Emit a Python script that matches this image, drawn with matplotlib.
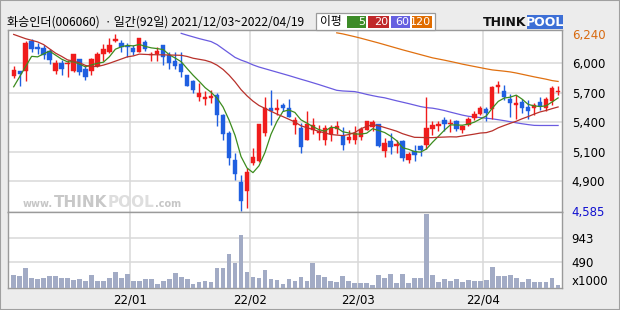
import numpy as np
import pandas as pd
import matplotlib
matplotlib.use("Agg")
import matplotlib.pyplot as plt
from matplotlib.patches import Rectangle

# ---------------- data ----------------
stock_name = "화승인더"
stock_code = "006060"
start_date = "2021-12-03"
end_date = "2022-04-19"
krx_holidays = ["2021-12-31", "2022-01-31", "2022-02-01", "2022-02-02", "2022-03-01", "2022-03-09"]

opens = [5850, 5891, 5894, 6175, 6116, 6106, 6084, 5894, 5966, 5960,
         5894, 6003, 5910, 5894, 5941, 6053, 6075, 6169, 6153, 6131,
         6106, 6075, 6162, 6041, 6050, 6137, 6044, 5988, 5957, 5857,
         5801, 5654, 5629, 5639, 5670, 5477, 5311, 5062, 4853, 4766,
         5031, 5047, 5311, 5551, 5530, 5570, 5551, 5389, 5358, 5249,
         5343, 5311, 5249, 5302, 5352, 5280, 5249, 5249, 5271, 5343,
         5365, 5396, 5146, 5234, 5193, 5234, 5062, 5146, 5187, 5202,
         5352, 5380, 5433, 5396, 5421, 5343, 5383, 5452, 5489, 5539,
         5539, 5742, 5701, 5633, 5576, 5601, 5555, 5545, 5601, 5545,
         5614, 5692]
highs = [5944, 5891, 6169, 6194, 6153, 6137, 6100, 5997, 5997, 5997,
         6056, 6003, 5935, 6013, 6069, 6144, 6200, 6240, 6184, 6153,
         6137, 6206, 6184, 6075, 6122, 6137, 6069, 6069, 6069, 5857,
         5810, 5785, 5701, 5717, 5686, 5489, 5327, 5124, 4922, 4984,
         5171, 5396, 5645, 5717, 5633, 5592, 5633, 5458, 5405, 5514,
         5452, 5383, 5389, 5389, 5421, 5365, 5343, 5374, 5365, 5427,
         5436, 5396, 5265, 5311, 5249, 5249, 5131, 5196, 5202, 5654,
         5421, 5427, 5458, 5445, 5430, 5389, 5467, 5514, 5561, 5555,
         5757, 5801, 5763, 5679, 5664, 5629, 5623, 5592, 5654, 5645,
         5748, 5748]
lows = [5826, 5748, 5801, 6075, 6050, 6006, 5957, 5863, 5857, 5841,
        5879, 5851, 5810, 5857, 5926, 5982, 6060, 6162, 6075, 6028,
        6038, 6069, 6081, 5988, 5988, 5950, 5913, 5913, 5841, 5748,
        5686, 5608, 5570, 5592, 5374, 5249, 5009, 4875, 4585, 4610,
        5015, 5040, 5287, 5383, 5477, 5514, 5458, 5302, 5124, 5249,
        5302, 5249, 5196, 5240, 5302, 5156, 5218, 5209, 5249, 5343,
        5327, 5177, 5084, 5115, 5124, 5053, 5031, 5053, 5093, 5165,
        5290, 5333, 5327, 5321, 5333, 5311, 5374, 5436, 5477, 5427,
        5445, 5686, 5623, 5458, 5445, 5498, 5445, 5483, 5530, 5514,
        5576, 5670]
closes = [5903, 5869, 6153, 6100, 6100, 6044, 5997, 5966, 5913, 5972,
          6050, 5882, 5841, 6003, 6050, 6100, 6137, 6194, 6116, 6116,
          6075, 6206, 6100, 6050, 6081, 6028, 5966, 5944, 5879, 5757,
          5717, 5686, 5645, 5661, 5483, 5302, 5078, 4928, 4672, 4947,
          5084, 5396, 5551, 5520, 5551, 5551, 5467, 5436, 5177, 5396,
          5389, 5327, 5358, 5358, 5377, 5202, 5271, 5311, 5349, 5421,
          5411, 5187, 5218, 5181, 5209, 5078, 5115, 5109, 5156, 5358,
          5389, 5396, 5396, 5405, 5352, 5380, 5445, 5489, 5551, 5498,
          5742, 5763, 5645, 5592, 5592, 5551, 5520, 5576, 5561, 5629,
          5732, 5707]
volumes = [249, 230, 383, 192, 172, 192, 230, 230, 192, 192,
           153, 172, 134, 249, 134, 134, 192, 306, 192, 268,
           134, 134, 172, 172, 77, 134, 172, 287, 211, 172,
           77, 115, 134, 115, 383, 383, 632, 479, 996, 306,
           211, 192, 345, 172, 153, 77, 172, 134, 211, 134,
           479, 249, 211, 134, 115, 230, 134, 96, 96, 96,
           57, 249, 192, 268, 96, 268, 96, 192, 192, 1398,
           249, 115, 172, 134, 172, 115, 153, 134, 134, 153,
           402, 230, 230, 249, 192, 115, 172, 115, 115, 115,
           192, 57]

ma5_head = [5745, 5840, 5935, 6030]
ma20_head = [6235, 6215, 6195, 6180, 6165, 6140, 6100, 6060, 6030, 5997,
             5985, 5970, 5945, 5935, 5935, 5948, 5965, 5985, 6005]
ma60_start = 28
ma60_vals = [6245, 6228, 6212, 6196, 6182, 6168, 6140, 6100, 6060, 6020,
             5995, 5975, 5950, 5930, 5914, 5898, 5882, 5866, 5850, 5833,
             5816, 5800, 5783, 5766, 5748, 5730, 5712, 5706, 5703, 5700,
             5688, 5674, 5662, 5651, 5642, 5628, 5614, 5601, 5588, 5574,
             5560, 5550, 5545, 5535, 5523, 5508, 5494, 5480, 5469, 5463,
             5457, 5451, 5445, 5437, 5428, 5418, 5408, 5399, 5391, 5384,
             5383, 5383, 5383, 5383]
ma120_start = 54
ma120_vals = [6250, 6240, 6227, 6214, 6200, 6185, 6170, 6155, 6139, 6123,
              6107, 6091, 6076, 6061, 6046, 6031, 6016, 6005, 5994, 5982,
              5970, 5957, 5946, 5935, 5924, 5913, 5903, 5897, 5891, 5884,
              5874, 5862, 5850, 5838, 5827, 5816, 5803, 5795]

vol_tick_values = [490, 943]

# ---------------- derived ----------------
dates = pd.bdate_range(start_date, end_date)
dates = dates[~dates.isin(pd.to_datetime(krx_holidays))]
n = len(closes)
assert len(dates) == n
x = np.arange(n)
o = np.array(opens, float); h = np.array(highs, float)
l = np.array(lows, float); c = np.array(closes, float)
v = np.array(volumes, float)

cs = pd.Series(c)
ma5 = cs.rolling(5).mean().to_numpy()
ma5[:len(ma5_head)] = ma5_head
ma20 = cs.rolling(20).mean().to_numpy()
ma20[:len(ma20_head)] = ma20_head
ma60 = np.full(n, np.nan); ma60[ma60_start:ma60_start + len(ma60_vals)] = ma60_vals
ma120 = np.full(n, np.nan); ma120[ma120_start:ma120_start + len(ma120_vals)] = ma120_vals

months = pd.Series(dates.to_period("M"))
month_first = [i for i in range(1, n) if months[i] != months[i - 1]]
month_labels = [dates[i].strftime("%y/%m") for i in month_first]

# ---------------- figure ----------------
W, H = 620, 310
fig = plt.figure(figsize=(6.2, 3.1), dpi=100, facecolor="#ececec")
fx = lambda px: px / W
fy = lambda py: 1 - py / H

RED = "#f01c1c"
BLUE = "#1f5fe0"
GRID = "#d8d8d8"
SPINE = "#9a9a9a"

ax = fig.add_axes([fx(8), fy(212), fx(554), (212 - 30) / H])
axv = fig.add_axes([fx(8), fy(288), fx(554), (288 - 212) / H])

hi, lo = h.max(), l.min()
rng = hi - lo
ax.set_ylim(lo - rng * 0.007, hi + rng * 0.022)
ax.set_xlim(-0.95, n - 0.35)
axv.set_xlim(-0.95, n - 0.35)
axv.set_ylim(0, 1430)

for a in (ax, axv):
    a.set_facecolor("white")
    for s in a.spines.values():
        s.set_color(SPINE)
        s.set_linewidth(1.0)
    a.tick_params(length=0)
    a.set_xticks([])
    for m in month_first:
        a.axvline(m - 0.5, color=GRID, lw=1.1, zorder=0)

# price gridlines at sixths of the range
grid_vals = [lo + rng * k / 6 for k in range(1, 6)]
for gv in grid_vals:
    ax.axhline(gv, color=GRID, lw=1.1, zorder=0)

# watermark: pieces placed one after another
renderer = fig.canvas.get_renderer()
wy = fy(204)
cur = fx(23)
pieces = [("www.", 7, "#c6c6c6", 0.0), ("THINK", 11, "#c8c8c8", 0.004),
          ("POOL", 11, "#dedede", 0.004), (".com", 7, "#c6c6c6", 0.0)]
for txt, fs, col, dy in pieces:
    t = fig.text(cur, wy + dy, txt, fontsize=fs, color=col, fontweight="bold", va="center", ha="left",
                 family="DejaVu Sans", zorder=1)
    bb = t.get_window_extent(renderer=renderer)
    cur += bb.width / (fig.dpi * 6.2) + 0.001

# candles
up = c >= o
colors = np.where(up, RED, BLUE)
ax.vlines(x, l, h, colors=colors, lw=1.0, zorder=3)
body_lo = np.minimum(o, c)
body_h = np.maximum(np.abs(c - o), rng * 0.006)
ax.bar(x, body_h, bottom=body_lo, width=0.72, color=colors, edgecolor=colors, lw=0.3, zorder=4)

# moving averages
ax.plot(x, ma5, color="#3c8c1e", lw=0.9, zorder=5)
ax.plot(x, ma20, color="#b8312b", lw=0.9, zorder=5)
ax.plot(x, ma60, color="#6a5be0", lw=0.9, zorder=2)
ax.plot(x, ma120, color="#e07010", lw=0.9, zorder=2)

# price axis labels
ax.yaxis.tick_right()
ticks = [lo] + grid_vals + [hi]
labels = [f"{lo:,.0f}"] + [f"{round(gv / 100) * 100:,.0f}" for gv in grid_vals] + [f"{hi:,.0f}"]
ax.set_yticks(ticks)
ax.set_yticklabels(labels, fontsize=8.5, family="DejaVu Sans")
ax.tick_params(axis="y", pad=7)
tl = ax.get_yticklabels()
tl[0].set_color("#1010d0")
tl[0].set_va("center_baseline")
tl[-1].set_color("#d86a10")

# volume
axv.bar(x, v, width=0.78, color="#a2abc5", zorder=3)
for tv in vol_tick_values:
    axv.axhline(tv, color=GRID, lw=1.1, zorder=0)
axv.yaxis.tick_right()
axv.set_yticks([0] + vol_tick_values)
axv.set_yticklabels(["x1000"] + [str(t) for t in vol_tick_values], fontsize=8.5, family="DejaVu Sans")
axv.tick_params(axis="y", pad=7)
tlv = axv.get_yticklabels()
tlv[0].set_va("bottom")

# month labels
for m, lab in zip(month_first, month_labels):
    xd = axv.transData.transform((m - 0.5, 0))[0]
    fig.text(xd / (fig.dpi * 6.2), fy(300), lab, ha="center", va="center", fontsize=8.5, family="DejaVu Sans")

# title
title = f"{stock_name}({stock_code}) ㆍ일간({n}일) {dates[0]:%Y/%m/%d}~{dates[-1]:%Y/%m/%d}"
fig.text(fx(7), fy(22), title, fontsize=8.7, ha="left", va="center",
         family=["Noto Sans CJK KR", "DejaVu Sans"])

# MA legend box
fig.patches.append(Rectangle((fx(316), fy(30)), fx(119), (30 - 13) / H, transform=fig.transFigure,
                             facecolor="white", edgecolor="#9a9a9a", lw=0.9))
fig.text(fx(331), fy(21.5), "이평", fontsize=8.5, ha="center", va="center",
         family=["Noto Sans CJK KR", "DejaVu Sans"])
legend_items = [("5", "#3d8b28", 347, 366), ("20", "#c0282a", 368, 389),
                ("60", "#6660e0", 391, 410), ("120", "#e06c00", 412, 432)]
for lab, col, x0, x1 in legend_items:
    fig.patches.append(Rectangle((fx(x0), fy(28)), fx(x1 - x0), 12 / H, transform=fig.transFigure,
                                 facecolor=col, edgecolor="none"))
    fig.text(fx(x1 - 1), fy(22), lab, fontsize=8, color="white", ha="right", va="center", family="DejaVu Sans")

# THINKPOOL logo
fig.text(fx(526), fy(22), "THINK", fontsize=9, fontweight="bold", color="#111111", ha="right", va="center",
         family="DejaVu Sans")
fig.patches.append(Rectangle((fx(527), fy(29)), fx(36), 14 / H, transform=fig.transFigure,
                             facecolor="#3d6fd6", edgecolor="none"))
fig.text(fx(545), fy(22), "POOL", fontsize=9, fontweight="bold", color="white", ha="center", va="center",
         family="DejaVu Sans")

# outer frame
fig.patches.append(Rectangle((0, 0), 1, 1, transform=fig.transFigure, facecolor="none",
                             edgecolor="#a0a0a0", lw=1.5))

fig.savefig("out.png", dpi=100, facecolor=fig.get_facecolor())
